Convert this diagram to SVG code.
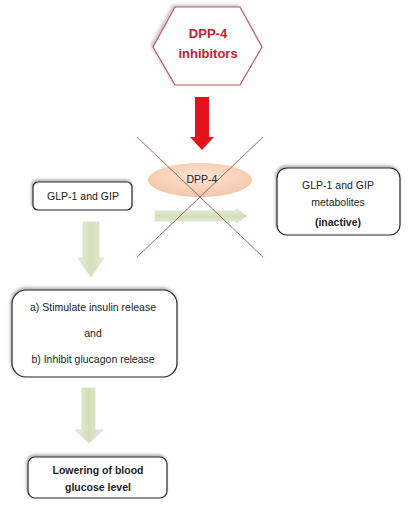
<svg xmlns="http://www.w3.org/2000/svg" width="410" height="514" viewBox="0 0 410 514">
<defs>
<style>
.box{fill:#fff;stroke:#222;stroke-width:1.2;filter:url(#sh)}
.t{font-family:"Liberation Sans",Arial,sans-serif;font-size:10.5px;fill:#222;text-anchor:middle}
.b{font-weight:bold}
.garrow{fill:url(#gg);stroke:#d6dfc4;stroke-width:0.8}
.cross{stroke:#a5554f;stroke-width:0.9}
</style>
<filter id="sh" x="-20%" y="-20%" width="140%" height="140%">
<feDropShadow dx="-1" dy="-2" stdDeviation="1.5" flood-color="#777" flood-opacity="0.6"/>
</filter>
<filter id="hs" x="-20%" y="-20%" width="140%" height="140%">
<feDropShadow dx="-2" dy="-2" stdDeviation="1.5" flood-color="#999" flood-opacity="0.5"/>
</filter>
<linearGradient id="gg" x1="0" y1="0" x2="0" y2="1">
<stop offset="0" stop-color="#e9efdd"/>
<stop offset="0.5" stop-color="#d2dfb9"/>
<stop offset="1" stop-color="#e6ecdb"/>
</linearGradient>
<linearGradient id="gh" x1="0" y1="0" x2="1" y2="0">
<stop offset="0" stop-color="#e9efdd"/>
<stop offset="0.5" stop-color="#d2dfb9"/>
<stop offset="1" stop-color="#e6ecdb"/>
</linearGradient>
<radialGradient id="pe" cx="0.5" cy="0.4" r="0.6">
<stop offset="0" stop-color="#fde6d6"/>
<stop offset="1" stop-color="#f4c6a8"/>
</radialGradient>
</defs>

<g id="dpp4-inhibitors">
<polygon points="175,7 240,7 262,47 240,85 175,85 153,47" fill="#fff" stroke="#b85a5f" stroke-width="1.2" filter="url(#hs)"/>
<text class="t b" x="208" y="38" style="font-size:13px;fill:#c0242c">DPP-4</text>
<text class="t b" x="208" y="58" style="font-size:13px;fill:#c0242c">inhibitors</text>
</g>

<g id="dpp4">
<ellipse cx="200" cy="180" rx="52" ry="17" fill="url(#pe)"/>
<text class="t" x="202" y="183">DPP-4</text>
</g>

<g id="glp1-gip">
<rect class="box" x="33" y="182" width="99" height="28" rx="5"/>
<text class="t" x="83" y="200">GLP-1 and GIP</text>
</g>

<g id="metabolites">
<rect class="box" x="277" y="168" width="123" height="67" rx="10"/>
<text class="t" x="338" y="189">GLP-1 and GIP</text>
<text class="t" x="338" y="206">metabolites</text>
<text class="t b" x="338" y="226">(inactive)</text>
</g>

<g id="effects">
<rect class="box" x="12" y="290" width="165" height="87" rx="14"/>
<text class="t" x="93" y="311">a) Stimulate insulin release</text>
<text class="t" x="93" y="337">and</text>
<text class="t" x="93" y="363">b) Inhibit glucagon release</text>
</g>

<g id="lowering">
<rect class="box" x="28" y="457" width="139" height="41" rx="7"/>
<text class="t b" x="98" y="474">Lowering of blood</text>
<text class="t b" x="98" y="491">glucose level</text>
</g>

<g id="connectors">
<polygon points="195,97 209,97 209,137 214,137 202,150 190,137 195,137" fill="#e3121b"/>
<polygon class="garrow" points="155,211 236,211 236,209 247,216 236,223 236,221 155,221"/>
<polygon class="garrow" style="fill:url(#gh)" points="83,222 99,222 99,258 104,258 91,277 78,258 83,258"/>
<polygon class="garrow" style="fill:url(#gh)" points="82,388 95,388 95,430 103,430 89,443 75,430 82,430"/>
<line class="cross" x1="137" y1="137" x2="263" y2="257"/>
<line class="cross" x1="263" y1="137" x2="137" y2="257"/>
</g>
</svg>
